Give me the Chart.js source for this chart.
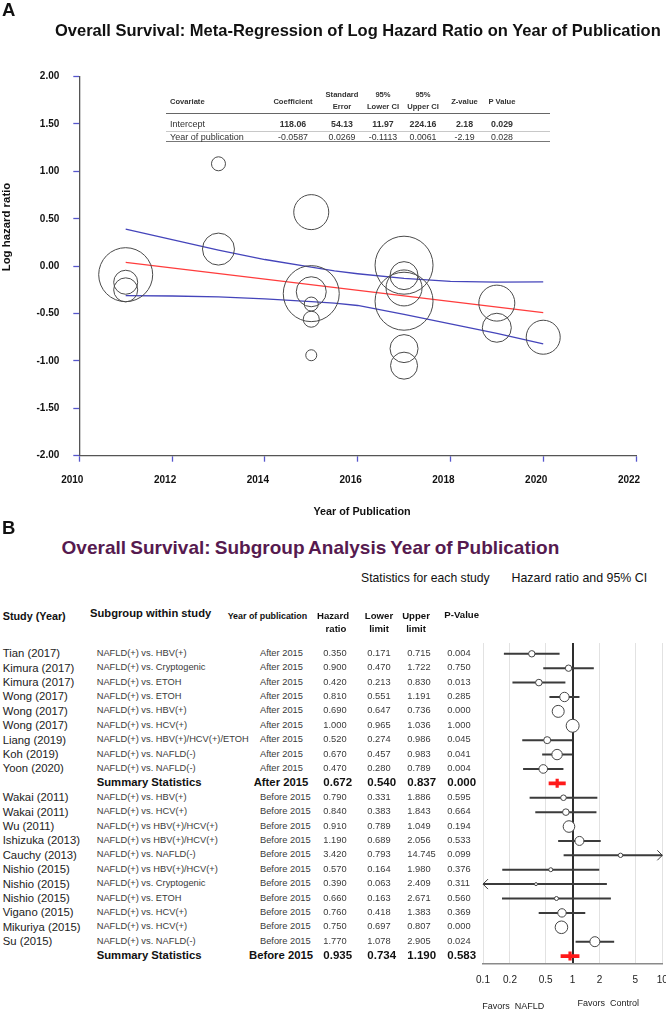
<!DOCTYPE html>
<html>
<head>
<meta charset="utf-8">
<title>Overall Survival: meta-regression and subgroup analysis</title>
<script src="https://cdn.jsdelivr.net/npm/chart.js@4.4.1/dist/chart.umd.min.js"></script>
<style>
  html, body { margin: 0; padding: 0; background: #fff; }
  #page { position: relative; width: 666px; height: 1010px; overflow: hidden;
          font-family: "Liberation Sans", Arial, sans-serif; color: #111; }
  #page canvas { position: absolute; }
  .t { position: absolute; white-space: pre; line-height: 1; }
  .rule { position: absolute; height: 0; }
</style>
</head>
<body>
<div id="page">
  <canvas id="chartA" width="666" height="522" style="left:0;top:0"></canvas>
  <canvas id="chartB" width="200" height="380" style="left:470px;top:630px"></canvas>
</div>
<script>
// ---------- panel A : meta-regression bubbles ----------
const bubbleYear   = [2011, 2011, 2011, 2013, 2013, 2015, 2015, 2015, 2015, 2015, 2015,
                      2017, 2017, 2017, 2017, 2017, 2017, 2019, 2019, 2020];
const bubbleLogHR  = [-0.09, -0.17, -0.25, 1.08, 0.18, 0.57, -0.29, -0.27, -0.40, -0.56, -0.94,
                      0.01, -0.10, -0.23, -0.37, -0.87, -1.05, -0.39, -0.65, -0.75];
const bubbleRadius = [27, 12, 12, 7, 16, 17.5, 28, 15, 7, 8, 5.5,
                      29, 14, 18, 29, 14, 13.5, 18, 14.5, 17];

const fitYears = [2011, 2020];
const fitLogHR = [0.04, -0.49];
const bandYears = [2011, 2012, 2013, 2014, 2015, 2015.5, 2016, 2017, 2018, 2019, 2020];
const bandUpper = [0.39, 0.28, 0.17, 0.07, -0.01, -0.05, -0.08, -0.13, -0.16, -0.168, -0.165];
const bandLower = [-0.31, -0.315, -0.325, -0.345, -0.375, -0.39, -0.415, -0.51, -0.61, -0.71, -0.82];

const yearTicks  = [2010, 2012, 2014, 2016, 2018, 2020, 2022];
const logHrTicks = [-2, -1.5, -1, -0.5, 0, 0.5, 1, 1.5, 2];

// inset regression table
const covariates  = ['Intercept', 'Year of publication'];
const coefficient = ['118.06', '-0.0587'];
const stdError    = ['54.13', '0.0269'];
const lowerCI     = ['11.97', '-0.1113'];
const upperCI     = ['224.16', '0.0061'];
const zValue      = ['2.18', '-2.19'];
const pValueA     = ['0.029', '0.028'];

// ---------- panel B : subgroup forest plot ----------
const studies = ['Tian (2017)', 'Kimura (2017)', 'Kimura (2017)', 'Wong (2017)', 'Wong (2017)',
  'Wong (2017)', 'Liang (2019)', 'Koh (2019)', 'Yoon (2020)', '',
  'Wakai (2011)', 'Wakai (2011)', 'Wu (2011)', 'Ishizuka (2013)', 'Cauchy (2013)',
  'Nishio (2015)', 'Nishio (2015)', 'Nishio (2015)', 'Vigano (2015)', 'Mikuriya (2015)', 'Su (2015)', ''];
const subgroups = ['NAFLD(+) vs. HBV(+)', 'NAFLD(+) vs. Cryptogenic', 'NAFLD(+) vs. ETOH',
  'NAFLD(+) vs. ETOH', 'NAFLD(+) vs. HBV(+)', 'NAFLD(+) vs. HCV(+)', 'NAFLD(+) vs. HBV(+)/HCV(+)/ETOH',
  'NAFLD(+) vs. NAFLD(-)', 'NAFLD(+) vs. NAFLD(-)', 'Summary Statistics',
  'NAFLD(+) vs. HBV(+)', 'NAFLD(+) vs. HCV(+)', 'NAFLD(+) vs HBV(+)/HCV(+)', 'NAFLD(+) vs HBV(+)/HCV(+)',
  'NAFLD(+) vs. NAFLD(-)', 'NAFLD(+) vs HBV(+)/HCV(+)', 'NAFLD(+) vs. Cryptogenic', 'NAFLD(+) vs. ETOH',
  'NAFLD(+) vs. HCV(+)', 'NAFLD(+) vs. HCV(+)', 'NAFLD(+) vs. NAFLD(-)', 'Summary Statistics'];
const periods = ['After 2015', 'After 2015', 'After 2015', 'After 2015', 'After 2015', 'After 2015',
  'After 2015', 'After 2015', 'After 2015', 'After 2015',
  'Before 2015', 'Before 2015', 'Before 2015', 'Before 2015', 'Before 2015', 'Before 2015',
  'Before 2015', 'Before 2015', 'Before 2015', 'Before 2015', 'Before 2015', 'Before 2015'];
const hazardRatio = [0.350, 0.900, 0.420, 0.810, 0.690, 1.000, 0.520, 0.670, 0.470, 0.672,
  0.790, 0.840, 0.910, 1.190, 3.420, 0.570, 0.390, 0.660, 0.760, 0.750, 1.770, 0.935];
const lowerLimit = [0.171, 0.470, 0.213, 0.551, 0.647, 0.965, 0.274, 0.457, 0.280, 0.540,
  0.331, 0.383, 0.789, 0.689, 0.793, 0.164, 0.063, 0.163, 0.418, 0.697, 1.078, 0.734];
const upperLimit = [0.715, 1.722, 0.830, 1.191, 0.736, 1.036, 0.986, 0.983, 0.789, 0.837,
  1.886, 1.843, 1.049, 2.056, 14.745, 1.980, 2.409, 2.671, 1.383, 0.807, 2.905, 1.190];
const pValues = ['0.004', '0.750', '0.013', '0.285', '0.000', '1.000', '0.045', '0.041', '0.004', '0.000',
  '0.595', '0.664', '0.194', '0.533', '0.099', '0.376', '0.311', '0.560', '0.369', '0.000', '0.024', '0.583'];
// marker radius (study weight)
const markerRadius = [3.2, 3.2, 3.3, 4.7, 6, 6.5, 3.5, 5.2, 4.3, 0,
  2.8, 3.3, 5.8, 4.5, 2.2, 2, 1.5, 2, 4.2, 6.3, 5, 0];
const forestTicks = [0.1, 0.2, 0.5, 1, 2, 5, 10];

const isSummary = i => studies[i] === '';

// ---------- helpers ----------
const page = document.getElementById('page');

function txt(str, x, y, style, align) {
  const el = document.createElement('div');
  el.className = 't';
  el.textContent = str;
  el.style.left = x + 'px';
  el.style.top = y + 'px';
  const tx = align === 'center' ? '-50%' : align === 'right' ? '-100%' : '0';
  el.style.transform = `translate(${tx}, -50%)`;
  Object.assign(el.style, style || {});
  page.appendChild(el);
  return el;
}

function rule(x1, x2, y, color) {
  const el = document.createElement('div');
  el.className = 'rule';
  el.style.left = x1 + 'px';
  el.style.width = (x2 - x1) + 'px';
  el.style.top = y + 'px';
  el.style.borderTop = '1px solid ' + color;
  page.appendChild(el);
}

// ---------- chart A ----------
const narrowBold = { family: '"Liberation Sans Narrow", "Liberation Sans", Arial', size: 10, weight: 'bold' };
const tickBlue = '#5656cc';

const chartA = new Chart(document.getElementById('chartA'), {
  type: 'bubble',
  data: {
    datasets: [
      {
        data: bubbleYear.map((yr, i) => ({ x: yr, y: bubbleLogHR[i], r: bubbleRadius[i] })),
        backgroundColor: 'rgba(255,255,255,0)',
        borderColor: '#4a4a4a',
        borderWidth: 1,
        order: 0
      },
      {
        type: 'line',
        data: fitYears.map((yr, i) => ({ x: yr, y: fitLogHR[i] })),
        borderColor: '#ff3c3c', borderWidth: 1.3, pointRadius: 0, order: 1
      },
      {
        type: 'line',
        data: bandYears.map((yr, i) => ({ x: yr, y: bandUpper[i] })),
        borderColor: '#4545bb', borderWidth: 1.3, pointRadius: 0, order: 1
      },
      {
        type: 'line',
        data: bandYears.map((yr, i) => ({ x: yr, y: bandLower[i] })),
        borderColor: '#4545bb', borderWidth: 1.3, pointRadius: 0, order: 1
      }
    ]
  },
  options: {
    responsive: false,
    animation: false,
    events: [],
    layout: { padding: { top: 76.6, right: 3.3, bottom: 0, left: 0 } },
    plugins: { legend: { display: false }, tooltip: { enabled: false } },
    scales: {
      x: {
        type: 'linear', min: 2010, max: 2022,
        afterBuildTicks: s => { s.ticks = yearTicks.map(v => ({ value: v })); },
        afterFit: s => { s.height = 66.3; s.paddingLeft = 0; s.paddingRight = 0; },
        border: { color: '#555', width: 1.3 },
        grid: { drawOnChartArea: false, tickLength: 6, tickColor: tickBlue, tickWidth: 1.3 },
        ticks: { color: '#111', font: narrowBold, padding: 13, labelOffset: -7,
                 maxRotation: 0, autoSkip: false, callback: v => String(v) }
      },
      y: {
        type: 'linear', min: -2, max: 2,
        afterBuildTicks: s => { s.ticks = logHrTicks.map(v => ({ value: v })); },
        afterFit: s => { s.width = 79.3; },
        border: { color: '#555', width: 1.3 },
        grid: { drawOnChartArea: false, tickLength: 6, tickColor: tickBlue, tickWidth: 1.3 },
        ticks: { color: '#111', font: narrowBold, padding: 14, autoSkip: false,
                 callback: v => v.toFixed(2) }
      }
    }
  }
});

// ---------- chart B (forest plot) ----------
const studyRows = hazardRatio.map((_, i) => i).filter(i => !isSummary(i));
const summaryRows = hazardRatio.map((_, i) => i).filter(i => isSummary(i));

const ciSegments = [];
studyRows.forEach(i => {
  ciSegments.push({ x: lowerLimit[i], y: i }, { x: upperLimit[i], y: i }, { x: null, y: null });
});
const summarySegments = [];
summaryRows.forEach(i => {
  summarySegments.push({ x: lowerLimit[i], y: i }, { x: upperLimit[i], y: i }, { x: null, y: null });
});

// open arrowheads where a CI runs off the axis
const ciArrows = {
  id: 'ciArrows',
  afterDatasetsDraw(chart) {
    const { ctx, scales: { x, y } } = chart;
    ctx.save();
    ctx.strokeStyle = '#3b3b3b';
    ctx.lineWidth = 1;
    studyRows.forEach(i => {
      const py = y.getPixelForValue(i);
      if (lowerLimit[i] < x.min) {
        const px = x.getPixelForValue(x.min);
        ctx.beginPath();
        ctx.moveTo(px + 5, py - 5); ctx.lineTo(px, py); ctx.lineTo(px + 5, py + 5);
        ctx.stroke();
      }
      if (upperLimit[i] > x.max) {
        const px = x.getPixelForValue(x.max);
        ctx.beginPath();
        ctx.moveTo(px - 5, py - 5); ctx.lineTo(px, py); ctx.lineTo(px - 5, py + 5);
        ctx.stroke();
      }
    });
    ctx.restore();
  }
};

const chartB = new Chart(document.getElementById('chartB'), {
  type: 'scatter',
  data: {
    datasets: [
      {
        data: studyRows.map(i => ({ x: hazardRatio[i], y: i })),
        pointRadius: studyRows.map(i => markerRadius[i]),
        pointBackgroundColor: '#fff',
        pointBorderColor: '#454545',
        pointBorderWidth: 1,
        order: 0
      },
      {
        type: 'line',
        data: summaryRows.map(i => ({ x: hazardRatio[i], y: i })),
        showLine: false,
        pointStyle: 'line',
        rotation: 90,
        pointRadius: 4.5,
        pointBorderColor: '#ff1a1a',
        pointBorderWidth: 3.2,
        order: 1
      },
      {
        type: 'line', data: ciSegments, borderColor: '#3b3b3b', borderWidth: 2,
        pointRadius: 0, spanGaps: false, clip: 0, order: 2
      },
      {
        type: 'line', data: summarySegments, borderColor: '#ff1a1a', borderWidth: 3.6,
        pointRadius: 0, spanGaps: false, order: 2
      }
    ]
  },
  options: {
    responsive: false,
    animation: false,
    events: [],
    layout: { padding: { top: 13, right: 7, bottom: 0, left: 13 } },
    plugins: { legend: { display: false }, tooltip: { enabled: false } },
    scales: {
      x: {
        type: 'logarithmic', min: 0.1, max: 10,
        afterBuildTicks: s => { s.ticks = forestTicks.map(v => ({ value: v })); },
        afterFit: s => { s.height = 46; s.paddingLeft = 0; s.paddingRight = 0; },
        border: { color: '#8a8a8a', width: 1.4 },
        grid: {
          drawTicks: false,
          color: c => (c.tick && c.tick.value === 1 ? '#2e2e2e' : '#e2e2e2'),
          lineWidth: c => (c.tick && c.tick.value === 1 ? 2 : 1)
        },
        ticks: { color: '#222', font: { family: '"Liberation Sans", Arial', size: 10 },
                 padding: 10, maxRotation: 0, autoSkip: false, callback: v => String(v) }
      },
      y: { type: 'linear', display: false, reverse: true, min: -0.75, max: 21.55 }
    }
  },
  plugins: [ciArrows]
});

// ---------- text: panel A ----------
txt('A', 2, 10, { fontSize: '18.5px', fontWeight: 'bold' });
txt('Overall Survival: Meta-Regression of Log Hazard Ratio on Year of Publication', 55, 30,
    { fontSize: '16.5px', fontWeight: 'bold' });
txt('Log hazard ratio', 7, 227,
    { fontSize: '11.4px', fontWeight: 'bold', transform: 'translate(-50%, -50%) rotate(-90deg)' });
txt('Year of Publication', 362, 511, { fontSize: '10.8px', fontWeight: 'bold' }, 'center');

// inset table
const insetHead = { fontSize: '7.6px', fontWeight: 'bold', color: '#333' };
const insetCols = [293, 342, 383, 423, 464.5, 502];
txt('Covariate', 170, 102, insetHead);
txt('Coefficient', insetCols[0], 102, insetHead, 'center');
txt('Standard', insetCols[1], 95, insetHead, 'center');
txt('Error', insetCols[1], 107, insetHead, 'center');
txt('95%', insetCols[2], 95, insetHead, 'center');
txt('Lower CI', insetCols[2], 107, insetHead, 'center');
txt('95%', insetCols[3], 95, insetHead, 'center');
txt('Upper CI', insetCols[3], 107, insetHead, 'center');
txt('Z-value', insetCols[4], 102, insetHead, 'center');
txt('P Value', insetCols[5], 102, insetHead, 'center');
rule(165.7, 550, 113, '#666');
rule(165.7, 550, 130.5, '#c8c8c8');
rule(165.7, 550, 141, '#777');
const insetRowY = [124.3, 137.3];
covariates.forEach((name, r) => {
  const body = { fontSize: '8.8px', color: '#333', fontWeight: r === 0 ? 'bold' : 'normal' };
  txt(name, 170, insetRowY[r], { fontSize: '9px', color: '#333' });
  [coefficient, stdError, lowerCI, upperCI, zValue, pValueA].forEach((col, c) => {
    txt(col[r], insetCols[c], insetRowY[r], body, 'center');
  });
});

// ---------- text: panel B ----------
txt('B', 2, 528, { fontSize: '18.5px', fontWeight: 'bold' });
txt('Overall Survival: Subgroup Analysis Year of Publication', 61.6, 547,
    { fontSize: '19px', fontWeight: 'bold', color: '#561a4f', wordSpacing: '-1px' });
txt('Statistics for each study', 361, 578.3, { fontSize: '12.2px', color: '#111' });
txt('Hazard ratio and 95% CI', 511.5, 578.3, { fontSize: '12.4px', color: '#111' });

const headB = { fontSize: '9.6px', fontWeight: 'bold' };
txt('Study (Year)', 2.7, 616, { fontSize: '10.8px', fontWeight: 'bold' });
txt('Subgroup within study', 90, 614, { fontSize: '11.2px', fontWeight: 'bold' });
txt('Year of publication', 227.7, 616, { fontSize: '8.9px', fontWeight: 'bold' });
txt('Hazard', 333, 616, headB, 'center');
txt('ratio', 336, 629, headB, 'center');
txt('Lower', 379, 616, headB, 'center');
txt('limit', 379, 629, headB, 'center');
txt('Upper', 416, 616, headB, 'center');
txt('limit', 416, 629, headB, 'center');
txt('P-Value', 461.7, 615, headB, 'center');

const numCols = [323.3, 367.3, 407.3, 447.3];
const yB = chartB.scales.y;
hazardRatio.forEach((hr, i) => {
  const y = 630 + yB.getPixelForValue(i);
  const nums = [hr.toFixed(3), lowerLimit[i].toFixed(3), upperLimit[i].toFixed(3), pValues[i]];
  if (isSummary(i)) {
    const b = { fontSize: '11.3px', fontWeight: 'bold', color: '#111' };
    txt(subgroups[i], 96.7, y, b);
    txt(periods[i], 281, y, b, 'center');
    nums.forEach((n, c) => txt(n, numCols[c], y, { fontSize: '11.5px', fontWeight: 'bold', color: '#111' }));
  } else {
    const small = { fontSize: '9.3px', color: '#3a3a3a' };
    txt(studies[i], 2.7, y + 0.5, { fontSize: '11.3px', color: '#222' });
    txt(subgroups[i], 96.7, y, small);
    txt(periods[i], 260, y, small);
    nums.forEach((n, c) => txt(n, numCols[c], y, small));
  }
});

txt('Favors  NAFLD', 513.3, 1006, { fontSize: '9px', color: '#222' }, 'center');
txt('Favors  Control', 608.3, 1002.7, { fontSize: '9px', color: '#222' }, 'center');
</script>
</body>
</html>
